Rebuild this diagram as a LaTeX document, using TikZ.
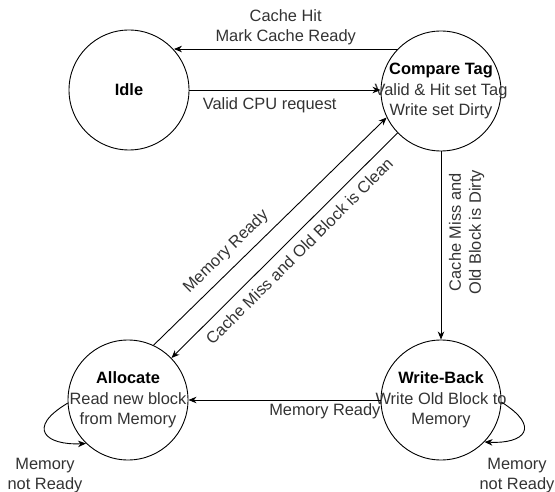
\documentclass[tikz,border=0pt]{standalone}
\usepackage{fontspec}
\setmainfont{Liberation Sans}
\usetikzlibrary{arrows.meta}
\begin{document}
\begin{tikzpicture}[x=1pt,y=-1pt,
  % the negative inner sep keeps every state at the same 120pt circle,
  % letting the wider texts reach the border
  state/.style={circle,draw,line width=0.9pt,minimum size=120pt,inner sep=-15pt,
    align=center,font=\fontsize{16.4}{20.5}\selectfont},
  trans/.style={-{Stealth[length=8pt,width=6.5pt,inset=2.5pt]},line width=0.9pt},
  lbl/.style={font=\fontsize{16.4}{20}\selectfont,text=black!80,align=center,inner sep=2pt}]
\useasboundingbox (0,0) rectangle (555,492);

% states
\node[state] (idle)  at (129,90)  {\textbf{Idle}};
\node[state] (cmp)   at (441,91)  {\textbf{Compare Tag}\\{\color{black!80}Valid \& Hit set Tag}\\{\color{black!80}Write set Dirty}};
\node[state] (alloc) at (128,400) {\textbf{Allocate}\\{\color{black!80}Read new block}\\{\color{black!80}from Memory}};
\node[state] (wb)    at (441,400) {\textbf{Write-Back}\\{\color{black!80}Write Old Block to}\\{\color{black!80}Memory}};

% transitions
\draw[trans] (idle.east) -- (cmp.west |- idle.east)
  node[lbl,below=5pt,pos=0.42] {Valid CPU request};
\draw[trans] (cmp.136) -- (cmp.136 -| idle.42)
  node[lbl,above=2pt,midway] {Cache Hit\\Mark Cache Ready};
\draw[trans] (cmp.south) -- (wb.north)
  node[lbl,pos=0.43,rotate=90,anchor=north,outer sep=6pt] {Cache Miss and\\Old Block is Dirty};
\draw[trans] (alloc.65) -- (cmp.206)
  node[lbl,sloped,above=6pt,pos=0.36] {Memory Ready};
\draw[trans] (cmp.224) -- (alloc.44)
  node[lbl,sloped,below=6pt,pos=0.48] {Cache Miss and Old Block is Clean};
\draw[trans] (wb.west) -- (alloc.east |- wb.west)
  node[lbl,below=1pt,pos=0.29] {Memory Ready};

% self loops
\draw[trans] (alloc.183) .. controls +(-42,25) and +(-40,2) .. (alloc.226);
\draw[trans] (wb.358) .. controls +(40,25) and +(40,2) .. (wb.316);
\node[lbl] (allocwait) at (45,476)  {Memory\\not Ready};
\node[lbl] (wbwait)    at (517,476) {Memory\\not Ready};
\end{tikzpicture}
\end{document}
